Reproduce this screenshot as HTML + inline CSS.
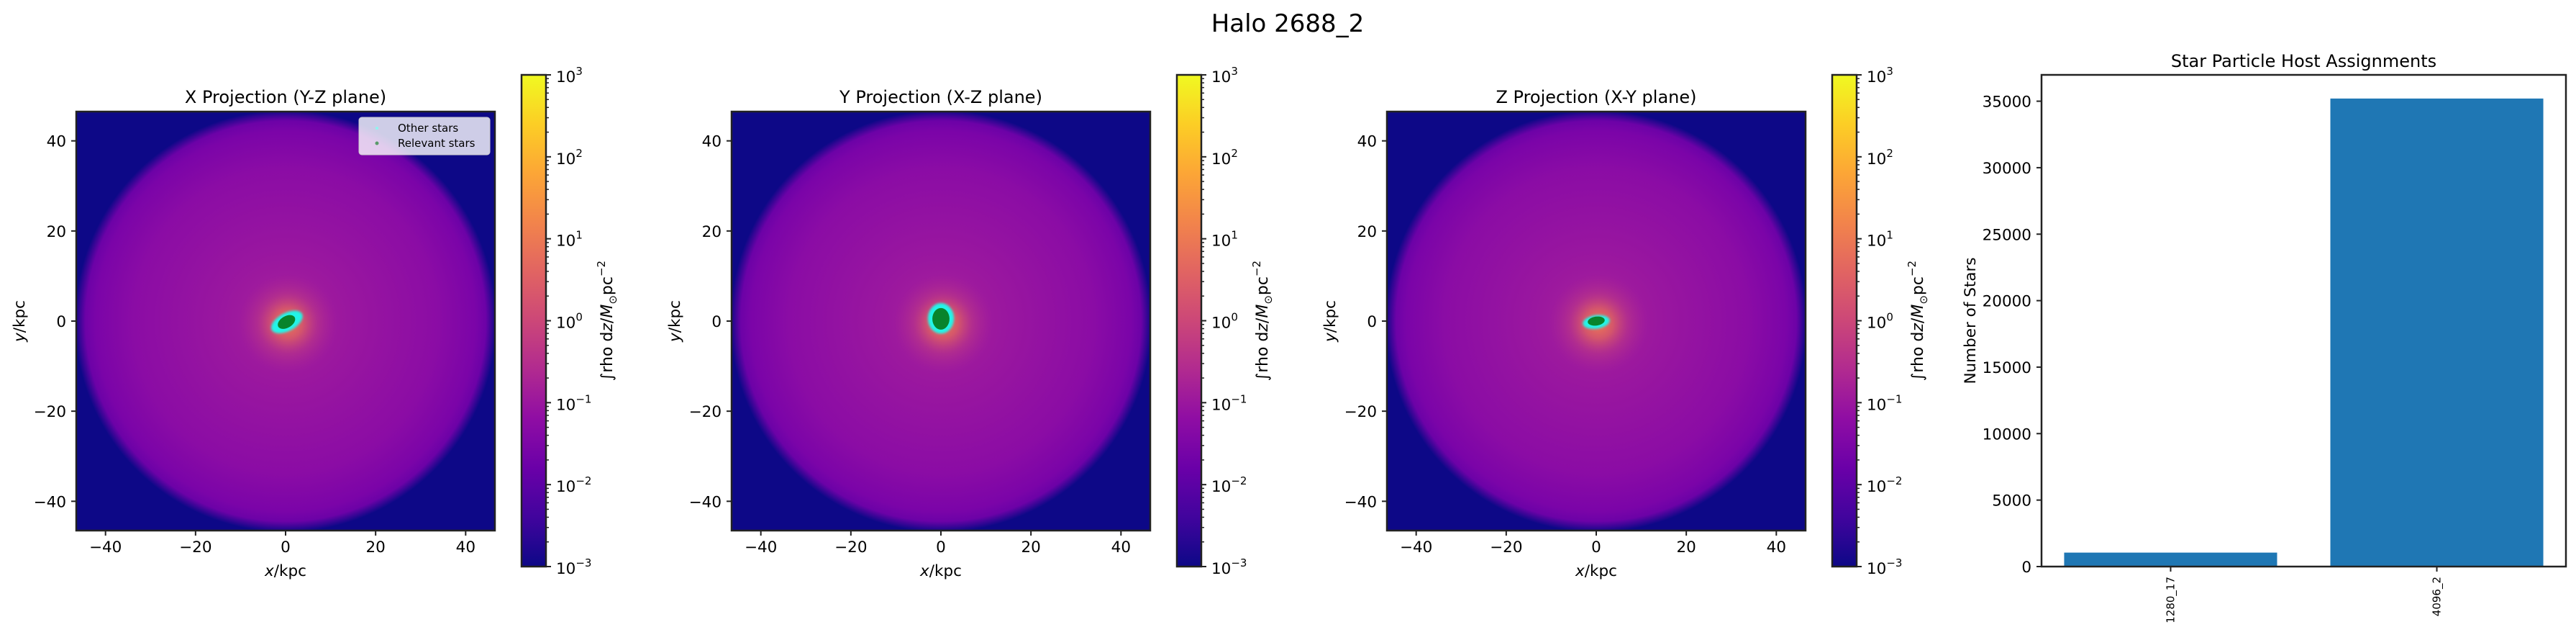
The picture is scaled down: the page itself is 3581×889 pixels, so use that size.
<!DOCTYPE html>
<html><head><meta charset="utf-8">
<style>
html,body{margin:0;padding:0;background:#fff;}
svg{display:block;font-family:"DejaVu Sans","Liberation Sans",sans-serif;}
</style></head>
<body>
<svg id="fig" width="3581" height="889" viewBox="0 0 3581 889" xmlns="http://www.w3.org/2000/svg">
<defs>
<linearGradient id="plasma" x1="0" y1="1" x2="0" y2="0">
<stop offset="0" stop-color="#0d0887"/><stop offset="0.1" stop-color="#41049d"/><stop offset="0.2" stop-color="#6a00a8"/><stop offset="0.3" stop-color="#8f0da4"/><stop offset="0.4" stop-color="#b12a90"/><stop offset="0.5" stop-color="#cc4778"/><stop offset="0.6" stop-color="#e16462"/><stop offset="0.7" stop-color="#f2844b"/><stop offset="0.8" stop-color="#fca636"/><stop offset="0.9" stop-color="#fcce25"/><stop offset="1" stop-color="#f0f921"/>
</linearGradient>
<radialGradient id="halo">
<stop offset="0" stop-color="#a8229a"/><stop offset="0.3" stop-color="#9a179f"/><stop offset="0.72" stop-color="#8b0ca5"/><stop offset="0.9" stop-color="#7b04a8"/><stop offset="0.95" stop-color="#6c02a7"/><stop offset="1" stop-color="#0d0887"/>
</radialGradient>
<radialGradient id="core">
<stop offset="0" stop-color="#f07a52" stop-opacity="1"/><stop offset="0.3" stop-color="#e0645f" stop-opacity="0.8"/><stop offset="0.6" stop-color="#c8447b" stop-opacity="0.4"/><stop offset="1" stop-color="#b12a90" stop-opacity="0"/>
</radialGradient>
<filter id="soft2" x="-50%" y="-50%" width="200%" height="200%"><feGaussianBlur stdDeviation="1.5"/></filter>
</defs>
<text x="1790" y="44" font-size="34" text-anchor="middle">Halo 2688_2</text>
<g id="panels"></g>
<g id="bars"></g>
</svg>
<script>
const NS="http://www.w3.org/2000/svg";
const axisTicks=[-40,-20,0,20,40];
const cbarExponents=[-3,-2,-1,0,1,2,3];
const panelTitles=["X Projection (Y-Z plane)","Y Projection (X-Z plane)","Z Projection (X-Y plane)"];
const cyanBlobs=[[0.3,-0.2,3.8,2.0,-28],[0,0.6,2.9,3.4,0],[0,-0.2,3.0,1.5,-8]];
const greenBlobs=[[0.2,-0.2,2.1,1.3,-30],[0,0.5,1.9,2.4,0],[0,0,1.9,1.0,-8]];
const categories=["1280_17","4096_2"];
const counts=[1050,35200];
const barTicks=[0,5000,10000,15000,20000,25000,30000,35000];

function el(tag,attrs,parent){const e=document.createElementNS(NS,tag);for(const k in attrs)e.setAttribute(k,attrs[k]);parent.appendChild(e);return e;}
const P=document.getElementById('panels');
const AX=582, TOP=155, LIM=46.5;
for(let k=0;k<3;k++){
  const L=106+911*k;
  const sx=v=>L+(v+LIM)/(2*LIM)*AX;
  const sy=v=>TOP+(LIM-v)/(2*LIM)*AX;
  const g=el('g',{},P);
  
  
  const clipId='clip'+k;
  const cp=el('clipPath',{id:clipId},g);el('rect',{x:L,y:TOP,width:AX,height:AX},cp);
  const img=el('g',{'clip-path':'url(#'+clipId+')'},g);
  
  
  el('rect',{x:L,y:TOP,width:AX,height:AX,fill:'#0d0887'},img);
  el('circle',{cx:sx(0),cy:sy(0),r:(sx(46.8)-sx(0)),fill:'url(#halo)'},img);
  el('circle',{cx:sx(0.5),cy:sy(-0.5),r:(sx(11)-sx(0)),fill:'url(#core)'},img);
  const cb=cyanBlobs[k];
  const c=el('ellipse',{cx:sx(cb[0]),cy:sy(cb[1]),rx:sx(cb[2])-sx(0),ry:sx(cb[3])-sx(0),fill:'#22f5e8',filter:'url(#soft2)',transform:`rotate(${cb[4]} ${sx(cb[0])} ${sy(cb[1])})`},img);
  
  
  const gb=greenBlobs[k];
  const gr=el('ellipse',{cx:sx(gb[0]),cy:sy(gb[1]),rx:sx(gb[2])-sx(0),ry:sx(gb[3])-sx(0),fill:'#08842c',transform:`rotate(${gb[4]} ${sx(gb[0])} ${sy(gb[1])})`},img);
  
  
  el('rect',{x:L,y:TOP,width:AX,height:AX,fill:'none',stroke:'#222',"stroke-width":2.5},g);
  axisTicks.forEach(t=>{
    el('line',{x1:sx(t),x2:sx(t),y1:TOP+AX,y2:TOP+AX+7,stroke:'#222','stroke-width':2},g);
    const tx=el('text',{x:sx(t),y:TOP+AX+30,'font-size':21.5,'text-anchor':'middle'},g);tx.textContent=t<0?'\u2212'+(-t):t;
    
    
    el('line',{x1:L-7,x2:L,y1:sy(t),y2:sy(t),stroke:'#222','stroke-width':2},g);
    const ty=el('text',{x:L-14,y:sy(t)+8,'font-size':21.5,'text-anchor':'end'},g);ty.textContent=t<0?'\u2212'+(-t):t;
    
    
  });
  const xl=el('text',{x:L+AX/2,y:800,'font-size':21.5,'text-anchor':'middle'},g);
  xl.innerHTML='<tspan font-style="italic">x</tspan>/kpc';
  
  
  const yl=el('text',{x:0,y:0,'font-size':21.5,'text-anchor':'middle',transform:`translate(${L-72} ${TOP+AX/2}) rotate(-90)`},g);
  yl.innerHTML='<tspan font-style="italic">y</tspan>/kpc';
  
  
  const tt=el('text',{x:L+AX/2,y:143,'font-size':24,'text-anchor':'middle'},g);tt.textContent=panelTitles[k];
  
  
  const CL=725+911*k, CT=104, CB=787, CW=34;
  const cg=el('g',{},g);
  
  
  el('rect',{x:CL,y:CT,width:CW,height:CB-CT,fill:'url(#plasma)',stroke:'#222','stroke-width':2.5},cg);
  const cy=e=>CB-(e+3)/6*(CB-CT);
  cbarExponents.forEach(e=>{
    el('line',{x1:CL+CW,x2:CL+CW+7,y1:cy(e),y2:cy(e),stroke:'#222','stroke-width':2},cg);
    const lt=el('text',{x:CL+CW+14,y:cy(e)+10,'font-size':21.5},cg);
    lt.innerHTML='10<tspan font-size="15" dy="-10">'+(e<0?'\u2212'+(-e):e)+'</tspan>';
    
    
    if(e<3){for(let m=2;m<10;m++){const yy=cy(e+Math.log10(m));el('line',{x1:CL+CW,x2:CL+CW+4,y1:yy,y2:yy,stroke:'#222','stroke-width':1.5},cg);}}
  });
  const cl=el('text',{x:0,y:0,'font-size':22,'text-anchor':'middle',transform:`translate(${CL+126} ${(CT+CB)/2}) rotate(-90)`},cg);
  cl.innerHTML='\u222Brho d<tspan font-style="italic">z</tspan>/<tspan font-style="italic">M</tspan><tspan font-size="15" dy="6">\u2299</tspan><tspan dy="-6">pc</tspan><tspan font-size="15" dy="-10">\u22122</tspan>';
  
  
  if(k===0){
    const lg=el('g',{},g);
    
    
    el('rect',{x:499,y:163,width:182,height:52,rx:4,fill:'#ffffff','fill-opacity':0.8,stroke:'#cccccc'},lg);
    el('circle',{cx:524,cy:178,r:2,fill:'#8ff5ef'},lg);
    el('circle',{cx:524,cy:199,r:2.5,fill:'#5a9a6a'},lg);
    const t1=el('text',{x:553,y:183,'font-size':15},lg);t1.textContent='Other stars';
    
    
    const t2=el('text',{x:553,y:204,'font-size':15},lg);t2.textContent='Relevant stars';
    
    
  }
}
const B=document.getElementById('bars');


const BL=2838,BR=3567,BT=104,BB=787,YMAX=36980;
const bx=i=>BL+(i+0.485)/(categories.length-0.03)*(BR-BL);
const by=v=>BB-v/YMAX*(BB-BT);
const bw=(bx(1)-bx(0))*0.8;
categories.forEach((c,i)=>{
  const r=el('rect',{x:bx(i)-bw/2,y:by(counts[i]),width:bw,height:BB-by(counts[i]),fill:'#1f77b4'},B);
  
  
  el('line',{x1:bx(i),x2:bx(i),y1:BB,y2:BB+7,stroke:'#222','stroke-width':2},B);
  const t=el('text',{x:0,y:0,'font-size':15,'text-anchor':'end',transform:`translate(${bx(i)+5} ${BB+14}) rotate(-90)`},B);
  t.textContent=c;
  
  
});
barTicks.forEach(v=>{
  el('line',{x1:BL-7,x2:BL,y1:by(v),y2:by(v),stroke:'#222','stroke-width':2},B);
  const t=el('text',{x:BL-14,y:by(v)+8,'font-size':21.5,'text-anchor':'end'},B);t.textContent=v;
  
  
});
el('rect',{x:BL,y:BT,width:BR-BL,height:BB-BT,fill:'none',stroke:'#222','stroke-width':2.5},B);
const bt=el('text',{x:(BL+BR)/2,y:93,'font-size':24,'text-anchor':'middle'},B);bt.textContent='Star Particle Host Assignments';


const byl=el('text',{x:0,y:0,'font-size':21.5,'text-anchor':'middle',transform:`translate(2746 ${(BT+BB)/2}) rotate(-90)`},B);byl.textContent='Number of Stars';


</script>
</body></html>
